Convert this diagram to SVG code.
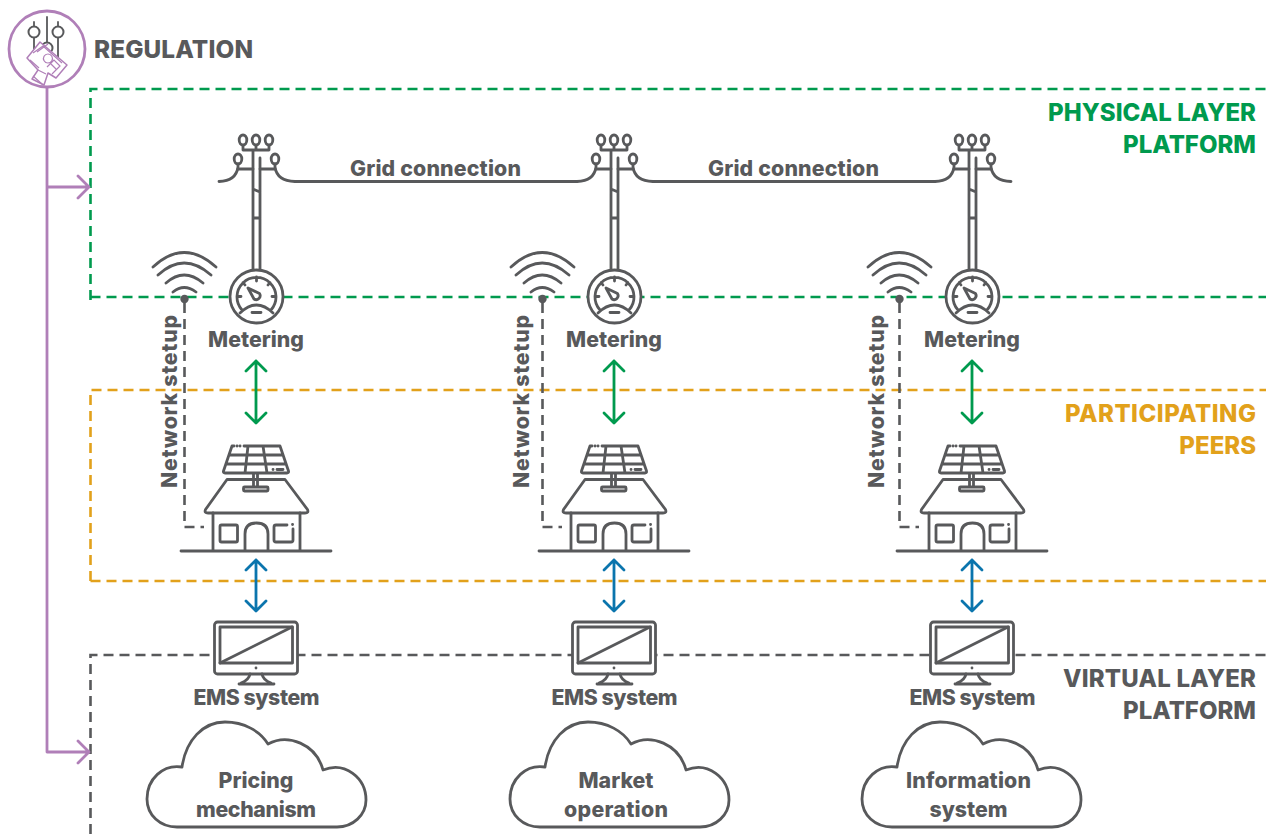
<svg xmlns="http://www.w3.org/2000/svg" width="1266" height="834" viewBox="0 0 1266 834">
<style>
text{font-family:"Inter","Noto Sans","Liberation Sans",sans-serif;font-weight:800;fill:#58595b}
.lbl{font-size:21.300px;text-anchor:middle}
.ttl{font-size:24px;text-anchor:end}
.ln{fill:none;stroke:#58595b;stroke-width:2.800;stroke-linecap:round;stroke-linejoin:round}
.wf{fill:#fff;stroke:#58595b;stroke-width:2.800;stroke-linejoin:round}
.dash{fill:none;stroke-width:2.600;stroke-dasharray:10 6}
.pur{fill:none;stroke:#b07fb8;stroke-width:2.800;stroke-linecap:round;stroke-linejoin:round}
.gr{fill:none;stroke:#009a4e;stroke-width:2.800;stroke-linecap:round;stroke-linejoin:round}
.bl{fill:none;stroke:#0b75ad;stroke-width:2.800;stroke-linecap:round;stroke-linejoin:round}
</style>
<defs>
<g id="pole">
<path class="ln" d="M253 151V270M260 158V270M253 189L260 192M253 218H260"/>
<path class="ln" d="M243 146V150H269V146M256 146V150"/>
<ellipse class="ln" cx="243" cy="140" rx="3.800" ry="5"/><ellipse class="ln" cx="256" cy="140" rx="3.800" ry="5"/><ellipse class="ln" cx="269" cy="140" rx="3.800" ry="5"/>
<ellipse class="ln" cx="238" cy="159" rx="3.800" ry="5"/><ellipse class="ln" cx="275" cy="159" rx="3.800" ry="5"/>
<path class="ln" d="M253 169H238M260 169H275"/>
<path class="ln" d="M238 164V167Q236 181 219 181.500M275 164V167Q277 181 295 181.500"/>
</g>
<g id="meter">
<circle class="wf" cx="256.500" cy="296.500" r="26.500"/>
<path class="ln" d="M242 310A19.500 19.500 0 1 1 271 310M240 313Q256.500 297 273 313M252 312.500H261M256.500 277V281M243 282.500L245 285M270 282.500L268 285M237 296.500H241M272 296.500H276"/>
<path class="ln" d="M248 288L259.500 293.500A4 4 0 0 1 254 299Z"/>
</g>
<g id="wifi">
<path class="ln" d="M153 267Q184 238 216 267M158 275Q184 251 211 275M166 283Q184 267 203 283M173 292Q184 283 196 292"/>
<circle cx="184.500" cy="299" r="4.200" fill="#58595b"/>
</g>
<g id="house">
<path class="ln" d="M234 446H232L223.500 471Q223 473 225 473H287Q289 473 288.500 471L280 446H244M229 455H283M226 464H286M248 446L245 473M263 446L267 473M253.500 473V487M257.500 473V487M237 446H237.100M240 446H240.100M273 469.500H273.100M277 469.500H283"/>
<rect class="wf" x="243.500" y="487" width="24.500" height="4" rx="1"/>
<path class="ln" d="M227 479.500H285L307.500 509.500Q309 513 305 513H208Q204 513 205.500 509.500Z"/>
<path class="ln" d="M213 513V551M300 513V551M181 551H331M245 551V534Q245 523 256.500 523Q268 523 268 534V551"/>
<rect class="ln" x="220" y="525" width="17.500" height="17" rx="1.500"/>
<path class="ln" d="M287 525H276Q274 525 274 527V540Q274 542 276 542H291Q293 542 293 540V529M292.500 524.500H292.600"/>
</g>
<g id="monitor">
<rect class="wf" x="214.500" y="622" width="83" height="52" rx="3"/>
<rect class="ln" x="220" y="627" width="72.500" height="36"/>
<path class="ln" d="M220 663L292 627"/>
<circle cx="256" cy="668" r="1.400" fill="#58595b"/>
<path class="ln" d="M250 674Q249 680 241 683M262 674Q263 680 271 683M239 684H274"/>
</g>
<g id="cloud">
<path class="ln" d="M182 767C186 740 203 722 225 722C244 722 260 731 268 744C288 733 316 744 323 770C345 761 366 778 366 800C366 815 353 827 337 827H177C160 827 147 815 147 799C147 779 163 764 182 767Z"/>
</g>
<g id="arrows">
<path class="gr" d="M256 361V423M246 371L256 361L266 371M246 413L256 423L266 413"/>
<path class="bl" d="M256 560V611M246 570L256 560L266 570M246 601L256 611L266 601"/>
</g>
<g id="netline">
<path fill="none" stroke="#58595b" stroke-width="2.600" stroke-dasharray="10 6" d="M184.500 303V527H204"/>
</g>
</defs>

<g id="layers">
<path class="dash" stroke="#009a4e" d="M90.500 300V89H1266M90.500 297H1266"/>
<path class="dash" stroke="#e2a11b" d="M90.500 581V390H1266M90.500 581H1266"/>
<path class="dash" stroke="#58595b" d="M90.500 834V655H1266"/>
</g>
<g id="connectors">
<path class="pur" d="M47 87V752H89M47 187H89M78 176L89 187L78 198M78 741L89 752L78 763"/>
<path class="ln" d="M295 181.500H577M653 181.500H935"/>
<use href="#netline"/><use href="#netline" x="358"/><use href="#netline" x="715"/>
<use href="#arrows"/><use href="#arrows" x="358"/><use href="#arrows" x="716"/>
</g>
<g id="regulation">
<circle cx="47" cy="49" r="38" fill="#fff" stroke="#b07fb8" stroke-width="2.800"/>
<path class="ln" d="M34 22V58M47 17V48M58 22V62" style="stroke-width:1.800"/>
<circle cx="34" cy="32" r="5.500" fill="#fff" stroke="#58595b" stroke-width="2"/>
<circle cx="58" cy="32" r="5.500" fill="#fff" stroke="#58595b" stroke-width="2"/>
<circle cx="47" cy="48" r="5.500" fill="#fff" stroke="#58595b" stroke-width="2"/>
<path fill="#fff" stroke="#b07fb8" stroke-width="1.500" stroke-linejoin="round" d="M40 42L67 65L56 78L48 73L44 85L32 79L38 70L27 58Z"/>
<path fill="none" stroke="#b07fb8" stroke-width="1.200" d="M33 53L43 46L62 63M37 52L48 44M30 60L39 68M48 54A4.500 4.500 0 1 1 47.900 54M47 67L54 60L60 66L52 74M51 64L56 69M33 76L42 84M38 70L46 74"/>
<text x="94" y="58" style="font-size:24.300px" textLength="159">REGULATION</text>
</g>
<g id="title-physical"><text class="ttl" x="1256" y="121" style="fill:#009a4e" textLength="208">PHYSICAL LAYER</text><text class="ttl" x="1256" y="153" style="fill:#009a4e">PLATFORM</text></g>
<g id="title-peers"><text class="ttl" x="1256" y="422" style="fill:#e2a11b" textLength="191">PARTICIPATING</text><text class="ttl" x="1256" y="454" style="fill:#e2a11b">PEERS</text></g>
<g id="title-virtual"><text class="ttl" x="1256" y="687" textLength="193">VIRTUAL LAYER</text><text class="ttl" x="1256" y="719">PLATFORM</text></g>

<g id="node-1">
<use href="#pole"/><use href="#wifi"/><use href="#meter"/><use href="#house"/><use href="#monitor"/><use href="#cloud"/>
<text class="lbl" x="435.500" y="176" textLength="171">Grid connection</text>
<text class="lbl" x="256" y="347">Metering</text>
<text class="lbl" transform="translate(177 401.500) rotate(-90)" textLength="173">Network stetup</text>
<text class="lbl" x="256.500" y="705" textLength="126">EMS system</text>
<text class="lbl" x="256" y="788">Pricing</text><text class="lbl" x="256" y="817" textLength="120">mechanism</text>
</g>
<g id="node-2">
<use href="#pole" x="358"/><use href="#wifi" x="358"/><use href="#meter" x="358"/><use href="#house" x="358"/><use href="#monitor" x="358"/><use href="#cloud" x="363"/>
<text class="lbl" x="793.500" y="176" textLength="171">Grid connection</text>
<text class="lbl" x="614" y="347">Metering</text>
<text class="lbl" transform="translate(529 401.500) rotate(-90)" textLength="173">Network stetup</text>
<text class="lbl" x="614.500" y="705" textLength="126">EMS system</text>
<text class="lbl" x="616" y="788">Market</text><text class="lbl" x="616" y="817" textLength="104">operation</text>
</g>
<g id="node-3">
<use href="#pole" x="716"/><use href="#wifi" x="715"/><use href="#meter" x="716"/><use href="#house" x="716"/><use href="#monitor" x="716"/><use href="#cloud" x="715"/>
<text class="lbl" x="972" y="347">Metering</text>
<text class="lbl" transform="translate(884 401.500) rotate(-90)" textLength="173">Network stetup</text>
<text class="lbl" x="972.500" y="705" textLength="126">EMS system</text>
<text class="lbl" x="968.500" y="788" textLength="125">Information</text><text class="lbl" x="968.500" y="817">system</text>
</g>
</svg>
